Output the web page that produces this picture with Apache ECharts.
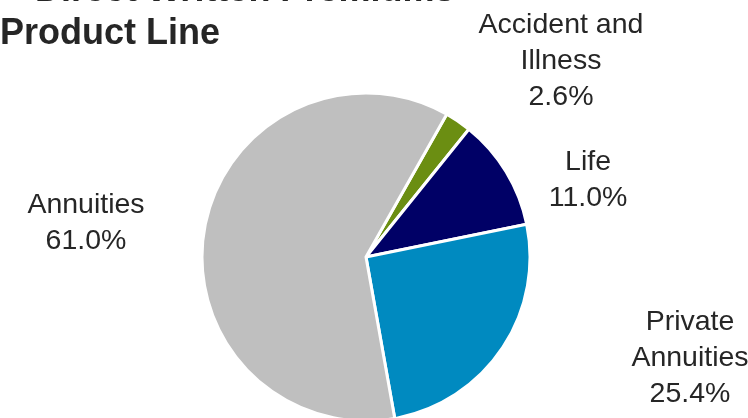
<!DOCTYPE html>
<html>
<head>
<meta charset="utf-8">
<script src="https://cdn.jsdelivr.net/npm/echarts@6/dist/echarts.min.js"></script>
<style>
	html, body { margin: 0; padding: 0; background: #fff; }
	#chart { width: 748px; height: 418px; }
</style>
</head>
<body>
<div id="chart"></div>
<script>
//	数据
var categories = ["Accident and\nIllness", "Life", "Private\nAnnuities", "Annuities"];
var shares = [2.6, 11.0, 25.4, 61.0];
var sliceColors = ["#6b8e12", "#000066", "#008ac0", "#bfbfbf"];
var titleLines = ["Direct Written Premiums", "Product Line"];

//	标签位置 (中心点)
var labelPos = [[561, 61], [588, 180], [690, 358], [86, 223]];

var pieData = [];
for (var i = 0; i < categories.length; i++) {
	pieData.push({
		name : categories[i],
		value : shares[i],
		itemStyle : { color : sliceColors[i] }
	});
}

var chart = echarts.init(document.getElementById("chart"));
chart.setOption({
	backgroundColor : "#ffffff",
	animation : false,
	graphic : [ {
		type : "text",
		x : 35,
		y : -9,
		style : {
			text : titleLines[0],
			fontFamily : "Liberation Sans, Arial, sans-serif",
			fontSize : 36,
			fontWeight : "bold",
			fill : "#262626",
			verticalAlign : "middle"
		}
	}, {
		type : "text",
		x : 0,
		y : 34,
		style : {
			text : titleLines[1],
			fontFamily : "Liberation Sans, Arial, sans-serif",
			fontSize : 36,
			fontWeight : "bold",
			fill : "#262626",
			verticalAlign : "middle"
		}
	} ],
	series : [ {
		type : "pie",
		center : [ 366, 257 ],
		radius : 164,
		startAngle : 60.5,
		clockwise : true,
		itemStyle : {
			borderColor : "#ffffff",
			borderWidth : 3
		},
		label : {
			show : true,
			position : "outside",
			formatter : function(p) {
				return p.name + "\n" + p.value.toFixed(1) + "%";
			},
			fontFamily : "Liberation Sans, Arial, sans-serif",
			fontSize : 28.5,
			lineHeight : 36,
			color : "#262626",
			align : "center"
		},
		labelLine : { show : false },
		labelLayout : function(params) {
			var p = labelPos[params.dataIndex];
			return {
				x : p[0],
				y : p[1],
				align : "center",
				verticalAlign : "middle"
			};
		},
		emphasis : { disabled : true },
		data : pieData
	} ]
});
</script>
</body>
</html>
